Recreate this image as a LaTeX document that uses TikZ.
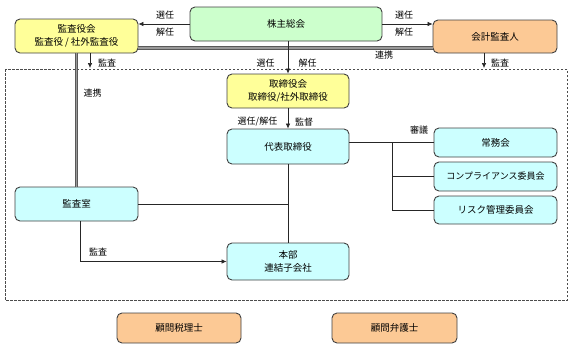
\documentclass[tikz,border=0pt]{standalone}
\usepackage{fontspec}
\setmainfont{Noto Sans CJK JP}
\usetikzlibrary{arrows.meta}
\definecolor{boxyellow}{HTML}{FFFF99}
\definecolor{boxgreen}{HTML}{CCFFCC}
\definecolor{boxorange}{HTML}{FCC995}
\definecolor{boxcyan}{HTML}{CCFFFF}

\begin{document}
\begin{tikzpicture}[x=1pt, y=-1pt, >={Latex[length=5pt,width=4.5pt]},
  box/.style={draw=black!75, line width=0.9pt, rounded corners=5pt, align=center,
    inner sep=0pt, font=\fontsize{9.5}{12.5}\selectfont},
  lbl/.style={inner sep=0pt, font=\fontsize{9}{10}\selectfont},
  conn/.style={draw=black!85, line width=0.6pt},
  link/.style={draw=black!65, line width=0.9pt, double=black!40, double distance=1.6pt}]

  \useasboundingbox (0,0) rectangle (572,349);

  % --- TOP: shareholders, auditors, accounting auditor ---
  \node[box, fill=boxgreen,  minimum width=192pt, minimum height=34pt] (kabunushi) at (286,24) {株主総会};
  \node[box, fill=boxyellow, minimum width=123pt, minimum height=34pt] (kansayakukai) at (76.5,36)
    {監査役会\\監査役 / 社外監査役};
  \node[box, fill=boxorange, minimum width=124pt, minimum height=33pt] (kaikei) at (495,36.5) {会計監査人};

  % company frame
  \draw[black!70, line width=0.7pt, dash pattern=on 2.5pt off 1.5pt] (5,69) rectangle (567,300);

  % --- MIDDLE: board and executives ---
  \node[box, fill=boxyellow, minimum width=122pt, minimum height=34pt] (torishimariyakukai) at (288,91)
    {取締役会\\取締役/社外取締役};
  \node[box, fill=boxcyan, minimum width=122pt, minimum height=35pt] (daihyo) at (288,146.5) {代表取締役};
  \node[box, fill=boxcyan, minimum width=123pt, minimum height=34pt] (kansashitsu) at (76.5,204) {監査室};
  \node[box, fill=boxcyan, minimum width=122pt, minimum height=37pt] (honbu) at (288,261.5)
    {本部\\連結子会社};

  % committees
  \node[box, fill=boxcyan, minimum width=123pt, minimum height=29pt] (jomukai) at (495.5,142.5) {常務会};
  \node[box, fill=boxcyan, minimum width=123pt, minimum height=29pt] (compliance) at (495.5,176.5)
    {\fontsize{9}{10}\selectfont コンプライアンス委員会};
  \node[box, fill=boxcyan, minimum width=123pt, minimum height=28pt] (risk) at (495.5,210) {リスク管理委員会};

  % --- BOTTOM: outside advisers ---
  \node[box, fill=boxorange, minimum width=124pt, minimum height=30pt] (zeirishi) at (179,328) {顧問税理士};
  \node[box, fill=boxorange, minimum width=125pt, minimum height=30pt] (bengoshi) at (394.5,328) {顧問弁護士};

  % cooperation lines (drawn first, arrows go over them)
  \draw[link] ([yshift=-12pt]kansayakukai.east) -- ([yshift=-12pt]kansayakukai.east -| kaikei.west);
  \draw[link] (kansayakukai.south) -- (kansashitsu.north);
  \node[lbl] (renkei1) at (384,55) {連携};
  \node[lbl] (renkei2) at (92.5,93) {連携};

  % appointment / dismissal
  \draw[conn,->] (kabunushi.west) -- (kabunushi.west -| kansayakukai.east);
  \draw[conn,->] (kabunushi.east) -- (kabunushi.east -| kaikei.west);
  \node[lbl] (sennin1) at (165,15.5) {選任};
  \node[lbl] (kainin1) at (165,32) {解任};
  \node[lbl] (sennin2) at (404,15.5) {選任};
  \node[lbl] (kainin2) at (404,32) {解任};

  \draw[conn,->] (kabunushi.south -| torishimariyakukai.north) -- (torishimariyakukai.north);
  \node[lbl] (sennin3) at (265.5,63) {選任};
  \node[lbl] (kainin3) at (307.5,63) {解任};

  \draw[conn,->] (torishimariyakukai.south) -- (daihyo.north);
  \node[lbl] (senkai) at (257.5,122) {選任/解任};
  \node[lbl] (kantoku) at (304,122) {監督};

  % audit arrows
  \coordinate (kansa1end) at (90,68);
  \coordinate (kansa2end) at (484,68);
  \draw[conn,->] (kansa1end |- kansayakukai.south) -- (kansa1end);
  \draw[conn,->] (kansa2end |- kaikei.south) -- (kansa2end);
  \node[lbl] (kansa1) at (107,63) {監査};
  \node[lbl] (kansa2) at (500,63) {監査};

  % internal lines
  \draw[conn] (daihyo.south) -- (honbu.north);
  \draw[conn] (kansashitsu.east) -- (kansashitsu.east -| daihyo.south);
  \draw[conn,->] ([xshift=3.5pt]kansashitsu.south) |- (honbu.west);
  \node[lbl] (kansa3) at (98,252) {監査};

  % deliberation branch
  \coordinate (br) at (392,142.5);
  \draw[conn] (daihyo.east |- jomukai.west) -- (jomukai.west);
  \draw[conn] (br) |- (risk.west);
  \draw[conn] (br |- compliance.west) -- (compliance.west);
  \node[lbl] (shingi) at (419,130) {審議};

\end{tikzpicture}
\end{document}
